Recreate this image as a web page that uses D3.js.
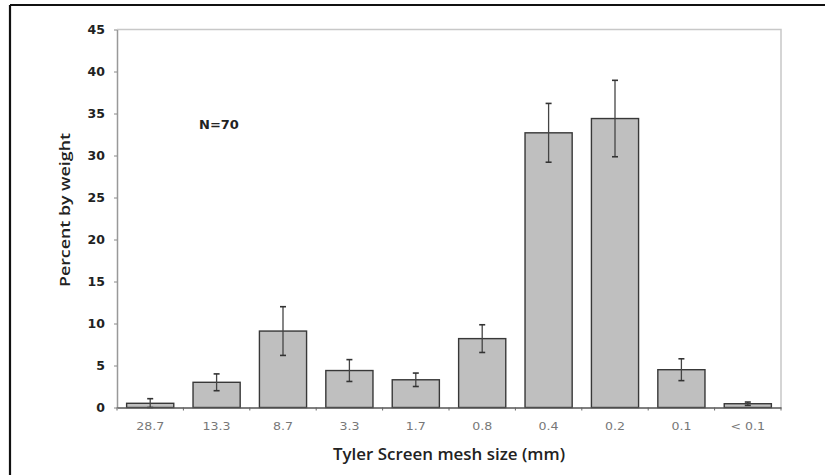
<!DOCTYPE html>
<html>
<head>
<meta charset="utf-8">
<script src="https://cdn.jsdelivr.net/npm/d3@7"></script>
<style>
  body { margin: 0; background: #fff; }
  svg { display: block; font-family: "Open Sans", "Noto Sans", sans-serif; }
</style>
</head>
<body>
<svg id="chart"></svg>
<script>
// mesh sizes (mm) and percent by weight
const meshSizes = ['28.7', '13.3', '8.7', '3.3', '1.7', '0.8', '0.4', '0.2', '0.1', '< 0.1'];
const percents  = [0.5, 3.0, 9.1, 4.4, 3.3, 8.2, 32.7, 34.4, 4.5, 0.45];
const errors    = [0.55, 1.0, 2.9, 1.3, 0.8, 1.65, 3.5, 4.55, 1.3, 0.2];
const yTicks    = [0, 5, 10, 15, 20, 25, 30, 35, 40, 45];

const config = {
  width: 825,
  height: 475,
  left: 117,
  right: 781,
  top: 29.5,
  bottom: 407.5
};

const svg = d3.select('#chart')
  .attr('width', config.width)
  .attr('height', config.height);

// outer frame (only top and left edges show)
svg.append('line')
  .attr('x1', 10).attr('y1', 5).attr('x2', config.width).attr('y2', 5)
  .attr('stroke', '#111').attr('stroke-width', 2.2);
svg.append('line')
  .attr('x1', 10).attr('y1', 5).attr('x2', 10).attr('y2', config.height)
  .attr('stroke', '#111').attr('stroke-width', 2.2);

const x = d3.scaleBand()
  .domain(meshSizes)
  .range([config.left, config.right])
  .paddingInner(0.29)
  .paddingOuter(0.145);

const y = d3.scaleLinear()
  .domain([0, 45])
  .range([config.bottom, config.top]);

// plot area border, top and right
svg.append('path')
  .attr('d', `M${config.left},${config.top}H${config.right}V${config.bottom}`)
  .attr('fill', 'none')
  .attr('stroke', '#c8c8c8')
  .attr('stroke-width', 1.5);

// bars
svg.selectAll('.bar')
  .data(meshSizes)
  .enter().append('rect')
  .attr('class', 'bar')
  .attr('x', d => x(d))
  .attr('width', x.bandwidth())
  .attr('y', (d, i) => y(percents[i]))
  .attr('height', (d, i) => config.bottom - y(percents[i]))
  .attr('fill', '#bfbfbf')
  .attr('stroke', '#383838')
  .attr('stroke-width', 1.4);

// error bars
const err = svg.selectAll('.err')
  .data(meshSizes)
  .enter().append('g')
  .attr('class', 'err')
  .attr('transform', d => `translate(${x(d) + x.bandwidth() / 2},0)`);

err.append('line')
  .attr('y1', (d, i) => y(percents[i] + errors[i]))
  .attr('y2', (d, i) => y(Math.max(0, percents[i] - errors[i])))
  .attr('stroke', '#444').attr('stroke-width', 1.3);
err.append('line')
  .attr('x1', -3).attr('x2', 3)
  .attr('y1', (d, i) => y(percents[i] + errors[i]))
  .attr('y2', (d, i) => y(percents[i] + errors[i]))
  .attr('stroke', '#333').attr('stroke-width', 1.6);
err.append('line')
  .attr('x1', -3).attr('x2', 3)
  .attr('y1', (d, i) => y(Math.max(0, percents[i] - errors[i])))
  .attr('y2', (d, i) => y(Math.max(0, percents[i] - errors[i])))
  .attr('stroke', '#333').attr('stroke-width', 1.6);

// y axis
const yAxis = svg.append('g')
  .attr('transform', `translate(${config.left},0)`)
  .call(d3.axisLeft(y).tickValues(yTicks).tickSize(3).tickSizeOuter(0));
yAxis.select('.domain').attr('stroke', '#999').attr('stroke-width', 1.5);
yAxis.selectAll('.tick line').attr('stroke', '#888');
yAxis.selectAll('.tick text')
  .attr('x', -12)
  .attr('fill', '#222')
  .style('font-family', '"DejaVu Sans", sans-serif')
  .style('font-size', '12.5px')
  .style('font-weight', 'bold');

// x axis
const xAxis = svg.append('g')
  .attr('transform', `translate(0,${config.bottom})`)
  .call(d3.axisBottom(x).tickSize(0).tickSizeOuter(0));
xAxis.select('.domain').attr('stroke', '#555').attr('stroke-width', 1.5);
xAxis.selectAll('.tick text')
  .attr('y', 15)
  .attr('fill', '#777')
  .attr('transform', 'scale(1.2,1)')
  .style('font-family', '"DejaVu Sans", sans-serif')
  .style('font-size', '10.5px');

// category divider ticks on the x axis
const step = x.step();
svg.selectAll('.xdiv')
  .data(d3.range(0, meshSizes.length + 1))
  .enter().append('line')
  .attr('class', 'xdiv')
  .attr('x1', i => config.left + i * step)
  .attr('x2', i => config.left + i * step)
  .attr('y1', config.bottom)
  .attr('y2', config.bottom + 3)
  .attr('stroke', '#666');

// labels
svg.append('text')
  .attr('transform', 'translate(65,210) rotate(-90)')
  .attr('text-anchor', 'middle')
  .attr('dy', '0.35em')
  .attr('fill', '#222')
  .attr('textLength', 154)
  .attr('lengthAdjust', 'spacingAndGlyphs')
  .style('font-size', '14px')
  .style('font-weight', 600)
  .text('Percent by weight');

svg.append('text')
  .attr('x', 333)
  .attr('y', 460)
  .attr('fill', '#222')
  .attr('textLength', 232)
  .attr('lengthAdjust', 'spacingAndGlyphs')
  .style('font-size', '16px')
  .style('font-weight', 600)
  .text('Tyler Screen mesh size (mm)');

svg.append('text')
  .attr('x', 199)
  .attr('y', 128.5)
  .attr('fill', '#222')
  .style('font-family', '"DejaVu Sans", sans-serif')
  .style('font-size', '13px')
  .style('font-weight', 'bold')
  .text('N=70');
</script>
</body>
</html>
